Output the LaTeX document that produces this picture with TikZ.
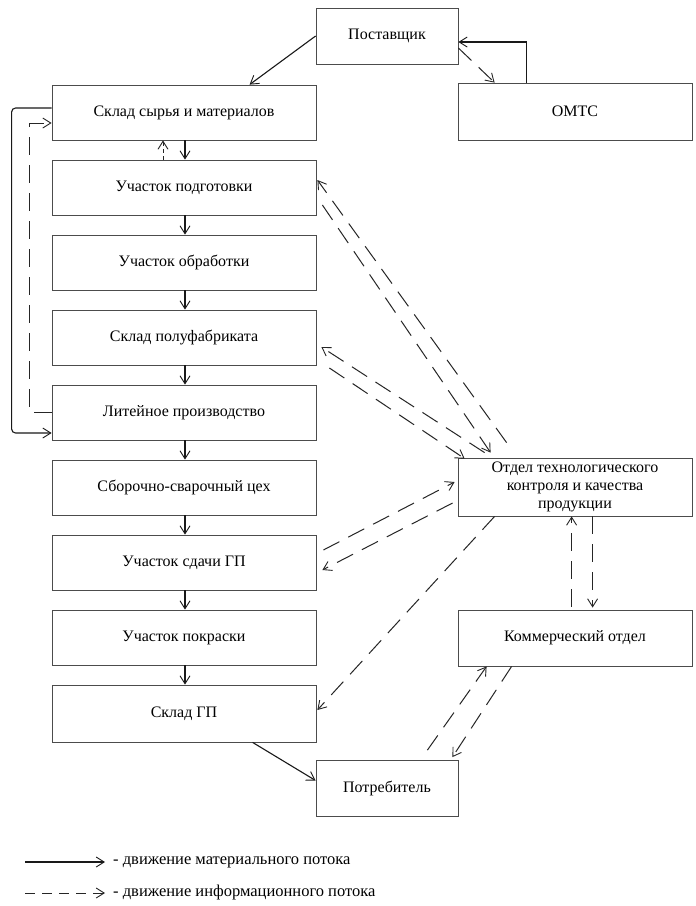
\documentclass[tikz,border=0pt]{standalone}
\usepackage{fontspec}
\setmainfont{Liberation Serif}
\usetikzlibrary{arrows.meta,calc}
\begin{document}
\begin{tikzpicture}[x=1pt,y=-1pt,
  box/.style={draw=black!70,line width=0.8pt,rectangle,inner sep=0pt,
    minimum width=264pt,minimum height=55pt,font=\fontsize{16}{18}\selectfont,align=center},
  sbox/.style={box,minimum width=142pt,minimum height=56pt},
  rbox/.style={box,minimum width=234pt,minimum height=57pt},
  tip/.style={-{Straight Barb[length=8pt,width=10pt,line width=0.9pt]}},
  mat/.style={tip,line width=1.1pt,black!90},
  info/.style={tip,line width=1pt,black!85,dash pattern=on 18pt off 10pt},
  legtext/.style={anchor=west,inner sep=0pt,font=\fontsize{16.5}{18}\selectfont}]
\useasboundingbox (0,0) rectangle (696,906);
\fill[white] (0,0) rectangle (696,906);

% left column
\node[box] (sklad)  at (184,112.5) {Склад сырья и материалов};
\node[box] (prep)   at (184,187.5) {Участок подготовки};
\node[box] (obr)    at (184,262.5) {Участок обработки};
\node[box] (polu)   at (184,337.5) {Склад полуфабриката};
\node[box] (lit)    at (184,412.5) {Литейное производство};
\node[box] (sbor)   at (184,487.5) {Сборочно-сварочный цех};
\node[box] (sdacha) at (184,562.5) {Участок сдачи ГП};
\node[box] (pokr)   at (184,637.5) {Участок покраски};
\node[box,minimum height=57pt] (gp) at (184,713.5) {Склад ГП};

% other boxes
\node[sbox] (post) at (387,36) {Поставщик};
\node[rbox] (omts) at (575,111.5) {ОМТС};
\node[rbox,minimum height=58pt] (otk) at (575,487) {Отдел технологического\\контроля и качества\\продукции};
\node[rbox,minimum height=56pt] (komm) at (575,638) {Коммерческий отдел};
\node[sbox] (potr) at (387,788.5) {Потребитель};

% material flow
\draw[mat] (post.west) -- ($(sklad.north west)+(198,0)$);
\draw[mat] ($(omts.north west)+(69,0)$) |- ($(post.east)+(0,6)$);
\foreach \a/\b in {sklad/prep,prep/obr,obr/polu,polu/lit,lit/sbor,sbor/sdacha,sdacha/pokr,pokr/gp}
  \draw[mat] ($(\a.south)+(1,0)$) -- ($(\b.north)+(1,0)$);
\draw[mat,rounded corners=4pt] ($(sklad.west)+(0,-4.5)$) -- ++(-40,0) |- ($(lit.west)+(0,20.5)$);
\draw[mat] ($(gp.south west)+(201,0)$) -- ($(potr.west)+(0,-8)$);

% information flow
\draw[info] ($(post.east)+(0,12)$) -- ($(omts.north west)+(37,0)$);
\draw[info,dash pattern=on 4pt off 3pt] ($(prep.north)+(-21,0)$) -- ($(sklad.south)+(-21,0)$);
\draw[info] (lit.west) -- ++(-22,0) |- ($(sklad.west)+(0,10.5)$);
\draw[info] ($(otk.north west)+(49,-15)$) -- ($(prep.east)+(1,-7.5)$);
\draw[info] ($(prep.east)+(6,17.5)$) -- ($(otk.north west)+(33,-5)$);
\draw[info] ($(otk.north west)+(27,-5)$) -- ($(polu.east)+(5,9.5)$);
\draw[info] ($(polu.east)+(13,30.5)$) -- ($(otk.north west)+(7,1)$);
\draw[info] ($(sdacha.east)+(7,-12.5)$) -- ($(otk.west)+(-3,-5)$);
\draw[info] ($(otk.west)+(-5,16)$) -- ($(sdacha.east)+(6,7.5)$);
\draw[info] ($(otk.south west)+(37,0)$) -- ($(gp.east)+(1,-3.5)$);
\draw[info] ($(komm.north west)+(114,-3)$) -- ($(otk.south west)+(114,0)$);
\draw[info] ($(otk.south west)+(135,0)$) -- ($(komm.north west)+(135,-2)$);
\draw[info] ($(potr.north east)+(-31,-10)$) -- ($(komm.south west)+(29,0)$);
\draw[info] ($(komm.south west)+(54,0)$) -- ($(potr.north east)+(-6,-3)$);

% legend
\coordinate (l1a) at (25,862);
\coordinate (l1b) at (105,862);
\coordinate (l2a) at (25,893);
\coordinate (l2b) at (105,893);
\draw[mat] (l1a) -- (l1b);
\draw[info,dash pattern=on 10pt off 7pt] (l2a) -- (l2b);
\node[legtext] (t1) at (113,862) {- движение материального потока};
\node[legtext] (t2) at (113,893) {- движение информационного потока};
\end{tikzpicture}
\end{document}
